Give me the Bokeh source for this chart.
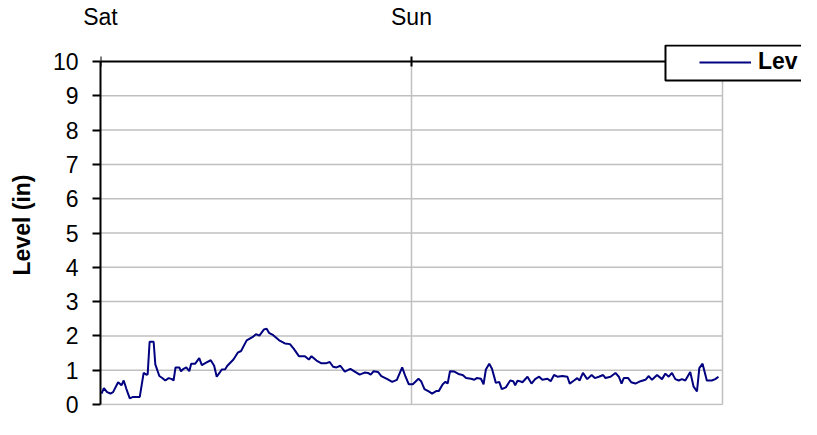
from bokeh.plotting import figure
from bokeh.models import Range1d, FixedTicker, BoxAnnotation
from bokeh.embed import file_html
from bokeh.resources import INLINE

# ---- data (hours since Saturday 00:00, level in inches) ----
hours = [0.08, 0.26, 0.51, 0.77, 0.97, 1.36, 1.62, 1.79, 2.0, 2.26,
         2.51, 3.03, 3.33, 3.54, 3.64, 3.79, 4.10, 4.23, 4.54, 4.74,
         5.0, 5.26, 5.51, 5.64, 5.79, 6.08, 6.21, 6.41, 6.62, 6.85,
         7.0, 7.31, 7.62, 7.82, 8.15, 8.51, 8.77, 8.97, 9.18, 9.36,
         9.62, 9.79, 10.26, 10.59, 10.85, 11.28, 11.79, 12.0, 12.26, 12.62,
         12.82, 13.0, 13.33, 13.79, 14.23, 14.62, 14.92, 15.31, 15.77, 16.08,
         16.28, 16.67, 17.05, 17.38, 17.69, 17.95, 18.21, 18.51, 18.85, 19.28,
         19.62, 20.0, 20.38, 20.64, 20.85, 21.08, 21.41, 21.67, 22.10, 22.51,
         22.87, 23.28, 23.54, 23.79, 24.10, 24.54, 24.74, 25.0, 25.33, 25.59,
         25.90, 26.10, 26.41, 26.62, 26.79, 26.97, 27.31, 27.69, 27.95, 28.21,
         28.59, 28.85, 29.03, 29.36, 29.56, 29.74, 30.0, 30.21, 30.51, 30.77,
         30.97, 31.28, 31.62, 31.85, 32.0, 32.18,
         32.36, 32.56, 32.95, 33.26, 33.54, 33.85, 34.10, 34.49, 34.74, 35.0,
         35.26, 35.64, 36.03, 36.21, 36.54, 36.79, 36.97, 37.23, 37.56, 37.90,
         38.15, 38.46, 38.79, 38.97, 39.36, 39.74, 40.0, 40.21, 40.38, 40.72,
         40.95, 41.28, 41.67, 42.05, 42.31, 42.56, 42.95, 43.33, 43.59, 43.85,
         44.10, 44.36, 44.62, 44.87, 45.13, 45.51, 45.77, 46.03, 46.21, 46.46,
         46.79, 47.18, 47.44, 47.69]

level = [0.32, 0.48, 0.36, 0.32, 0.36, 0.65, 0.56, 0.70, 0.45, 0.18,
         0.22, 0.22, 0.92, 0.87, 0.88, 1.83, 1.83, 1.17, 0.83, 0.78,
         0.70, 0.77, 0.74, 0.70, 1.08, 1.08, 0.97, 1.04, 1.08, 0.97,
         1.19, 1.19, 1.35, 1.15, 1.22, 1.29, 1.13, 0.81, 0.92, 1.02,
         1.03, 1.13, 1.31, 1.51, 1.56, 1.87, 1.98, 2.05, 2.01, 2.19,
         2.21, 2.09, 2.02, 1.87, 1.78, 1.76, 1.62, 1.41, 1.41, 1.31,
         1.41, 1.28, 1.20, 1.20, 1.24, 1.10, 1.08, 1.13, 0.96, 1.04,
         0.96, 0.87, 0.93, 0.92, 0.87, 0.97, 0.95, 0.83, 0.75, 0.66,
         0.72, 1.08, 0.81, 0.59, 0.59, 0.75, 0.68, 0.45, 0.38, 0.32,
         0.39, 0.39, 0.59, 0.66, 0.61, 0.97, 0.96, 0.88, 0.86, 0.77,
         0.75, 0.72, 0.77, 0.75, 0.59, 1.02, 1.19, 1.04, 0.63, 0.66,
         0.45, 0.50, 0.70, 0.68, 0.56, 0.69,
         0.68, 0.65, 0.81, 0.61, 0.74, 0.81, 0.72, 0.75, 0.68, 0.86,
         0.81, 0.83, 0.81, 0.61, 0.70, 0.77, 0.70, 0.92, 0.74, 0.86,
         0.77, 0.81, 0.86, 0.77, 0.81, 0.92, 0.81, 0.61, 0.77, 0.77,
         0.65, 0.61, 0.68, 0.72, 0.83, 0.72, 0.86, 0.74, 0.90, 0.81,
         0.92, 0.74, 0.70, 0.74, 0.70, 0.95, 0.52, 0.38, 1.06, 1.19,
         0.70, 0.70, 0.74, 0.81]

x_tick_hours = [0, 24]
x_tick_labels = ["Sat", "Sun"]
x_grid_hours = [24, 48]
x_end = 48
y_ticks = [0, 1, 2, 3, 4, 5, 6, 7, 8, 9, 10]
y_top = 10
series_name = "Lev"
y_title = "Level (in)"

FONT = "Liberation Sans"
GRID = "#c0c0c0"

# frame: left 100, right = canvas edge (801), top 44, bottom 405
# (0h -> x=100, 48h -> x=722 ; 0 -> y=404, 10 -> y=61)
PX_PER_UNIT = 34.3
p = figure(width=801, height=419,
           x_range=Range1d(0, 54.096), y_range=Range1d(-1 / PX_PER_UNIT, 10 + 17 / PX_PER_UNIT),
           x_axis_location="above",
           output_backend="svg", toolbar_location=None,
           min_border_left=100, min_border_right=0,
           min_border_top=44, min_border_bottom=14)
p.outline_line_color = None
p.background_fill_color = "white"
p.border_fill_color = "white"
p.xgrid.visible = False
p.ygrid.visible = False

# gray grid lines, limited to the chart area
hy = y_ticks[:-1]
p.segment(x0=[0] * len(hy), y0=hy, x1=[x_end] * len(hy), y1=hy,
          line_color=GRID, line_width=1.5, level="underlay")
p.segment(x0=x_grid_hours, y0=[0] * len(x_grid_hours), x1=x_grid_hours,
          y1=[y_top] * len(x_grid_hours),
          line_color=GRID, line_width=1.5, level="underlay")

# black top axis line at y = 10 with crossing ticks
p.segment(x0=[0], y0=[y_top], x1=[x_end], y1=[y_top],
          line_color="black", line_width=2, level="underlay")
tk = 5 / PX_PER_UNIT
p.segment(x0=x_tick_hours, y0=[y_top - tk] * len(x_tick_hours),
          x1=x_tick_hours, y1=[y_top + tk] * len(x_tick_hours),
          line_color="black", line_width=2, level="underlay")

# top axis: labels only
xa = p.xaxis[0]
xa.ticker = FixedTicker(ticks=x_tick_hours)
xa.major_label_overrides = {h: lab for h, lab in zip(x_tick_hours, x_tick_labels)}
xa.axis_line_color = None
xa.major_tick_line_color = None
xa.major_tick_in = 0
xa.major_tick_out = 0
xa.minor_tick_line_color = None
xa.major_label_standoff = 15
xa.major_label_text_font = FONT
xa.major_label_text_font_size = "23px"
xa.major_label_text_color = "black"

# left axis
ya = p.yaxis[0]
ya.ticker = FixedTicker(ticks=y_ticks)
ya.bounds = (0, y_top)
ya.axis_line_width = 2
ya.axis_line_color = "black"
ya.major_tick_line_width = 2
ya.major_tick_in = 0
ya.major_tick_out = 8
ya.minor_tick_line_color = None
ya.major_label_standoff = 14
ya.major_label_text_font = FONT
ya.major_label_text_font_size = "23px"
ya.major_label_text_color = "black"
ya.axis_label = y_title
ya.axis_label_text_font = FONT
ya.axis_label_text_font_size = "23px"
ya.axis_label_text_font_style = "bold"
ya.axis_label_text_color = "black"
ya.axis_label_standoff = 15

# legend frame box (cut off at the right edge like the reference)
box = BoxAnnotation(left=43.6, right=60, top=10 + 16 / PX_PER_UNIT, bottom=10 - 19 / PX_PER_UNIT,
                    fill_color="white", fill_alpha=1.0,
                    line_color="black", line_width=2, line_alpha=1.0)
p.add_layout(box)

p.line(hours, level, line_color="#000080", line_width=2, legend_label=series_name)

lg = p.legend[0]
lg.location = (599, 330)
lg.padding = 4
lg.margin = 0
lg.spacing = 0
lg.glyph_width = 52
lg.glyph_height = 20
lg.label_standoff = 7
lg.label_text_font = FONT
lg.label_text_font_size = "23px"
lg.label_text_font_style = "bold"
lg.label_text_color = "black"
lg.border_line_color = None
lg.background_fill_alpha = 0

open("out.html", "w").write(file_html(p, INLINE))
